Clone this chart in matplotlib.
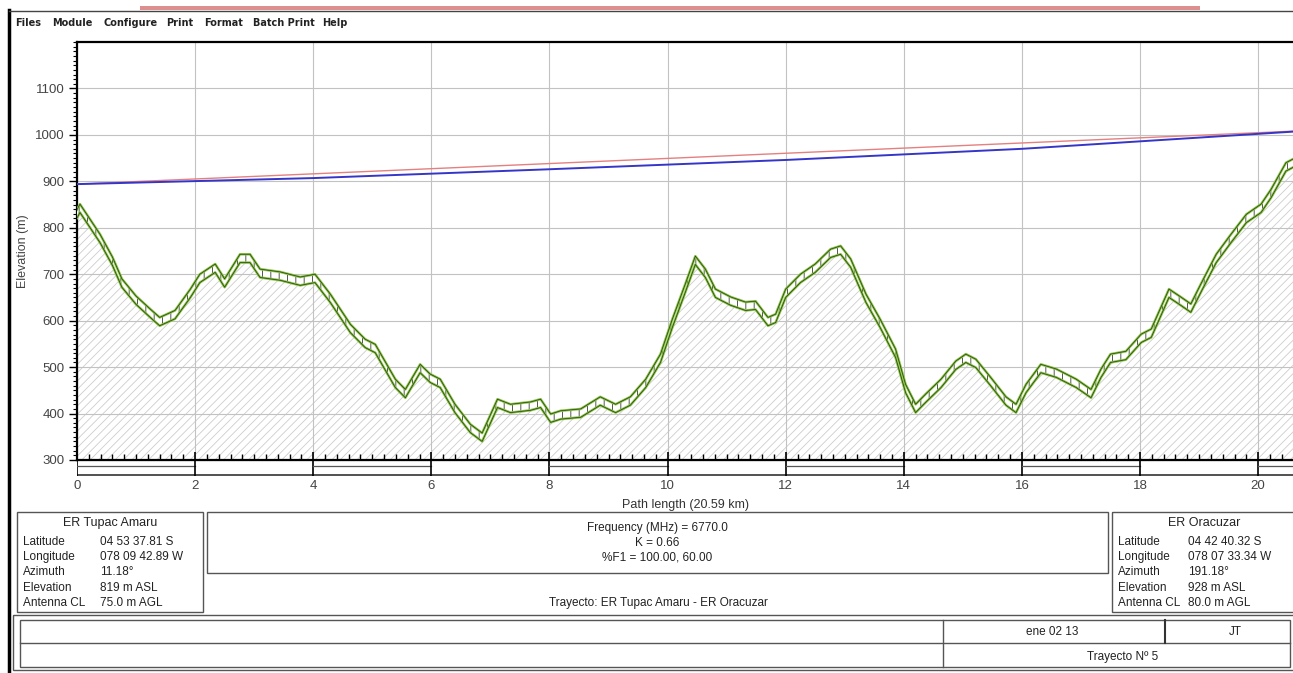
import matplotlib
matplotlib.use("Agg")
import matplotlib.pyplot as plt
from matplotlib.ticker import MultipleLocator
from matplotlib.patches import Rectangle
import numpy as np

plt.rcParams['font.family'] = ['Liberation Sans', 'DejaVu Sans']
plt.rcParams['hatch.linewidth'] = 0.6

W, H = 1293, 673

# terrain profile (km, m ASL)
dist_km = [0, 0.05, 0.39, 0.6, 0.76, 1.0, 1.24, 1.4, 1.66, 1.92, 2.08, 2.34, 2.5, 2.76, 2.93,
           3.1, 3.44, 3.78, 4.03, 4.29, 4.63, 4.88, 5.05, 5.39, 5.56, 5.81, 5.98, 6.15, 6.4,
           6.66, 6.86, 7.12, 7.34, 7.68, 7.85, 8.02, 8.19, 8.53, 8.86, 9.12, 9.37, 9.63, 9.88,
           10.08, 10.3, 10.47, 10.64, 10.81, 11.07, 11.32, 11.49, 11.7, 11.83, 12.0, 12.25,
           12.5, 12.76, 12.93, 13.1, 13.36, 13.6, 13.86, 14.03, 14.2, 14.37, 14.63, 14.88,
           15.05, 15.22, 15.47, 15.73, 15.9, 16.07, 16.32, 16.58, 16.92, 17.17, 17.34, 17.5,
           17.76, 18.02, 18.19, 18.49, 18.69, 18.86, 19.03, 19.29, 19.54, 19.8, 20.05, 20.22,
           20.47, 20.59]
ground_m = [821, 833, 768, 719, 672, 635, 607, 589, 604, 650, 682, 704, 672, 725, 725,
            693, 687, 676, 682, 639, 574, 542, 531, 456, 434, 488, 467, 456, 402,
            359, 340, 413, 402, 407, 413, 381, 388, 392, 418, 402, 418, 456, 510,
            585, 661, 721, 693, 650, 633, 622, 624, 589, 596, 650, 682,
            704, 736, 743, 715, 639, 585, 521, 445, 402, 424, 456, 495,
            510, 499, 460, 418, 402, 445, 488, 478, 456, 434, 478, 510,
            516, 553, 564, 650, 633, 618, 661, 725, 768, 811, 833, 865,
            922, 930]
clutter_m = 18

# line of sight (red) and curved ray (blue)
los_km = [0, 20.59]
los_m = [894, 1008]
ray_km = [0, 4, 8, 12, 16, 20.59]
ray_m = [894, 907, 926, 946, 970, 1007]

x_ticks = [0, 2, 4, 6, 8, 10, 12, 14, 16, 18, 20]
y_ticks = [300, 400, 500, 600, 700, 800, 900, 1000, 1100]

menu_items = ["Files", "Module", "Configure", "Print", "Format", "Batch Print", "Help"]
menu_x = [15, 52, 104, 166, 204, 253, 322]

row_names = ["Latitude", "Longitude", "Azimuth", "Elevation", "Antenna CL"]
site_a = "ER Tupac Amaru"
site_a_vals = ["04 53 37.81 S", "078 09 42.89 W", "11.18°", "819 m ASL", "75.0 m AGL"]
site_b = "ER Oracuzar"
site_b_vals = ["04 42 40.32 S", "078 07 33.34 W", "191.18°", "928 m ASL", "80.0 m AGL"]
mid_lines = ["Frequency (MHz) = 6770.0", "K = 0.66", "%F1 = 100.00, 60.00"]

fig = plt.figure(figsize=(W / 100, H / 100), dpi=100)

# overlay in pixel coords for the window chrome and info panels
ov = fig.add_axes([0, 0, 1, 1])
ov.set_xlim(0, W)
ov.set_ylim(H, 0)
ov.axis('off')

ov.plot([9, 9], [10, H], color='black', lw=2.5)
ov.plot([9, W], [11, 11], color='#444444', lw=1)
ov.add_patch(Rectangle((140, 6), 1060, 4, color='#cf5f5f', alpha=0.7, lw=0))
for t, xx in zip(menu_items, menu_x):
    ov.text(xx, 23, t, fontsize=7, fontweight='bold', color='#222222', va='center',
            family=['DejaVu Sans'])

# site boxes
ov.add_patch(Rectangle((17, 512), 186, 100, fill=False, ec='#555555', lw=1))
ov.add_patch(Rectangle((1112, 512), 185, 100, fill=False, ec='#555555', lw=1))
ov.add_patch(Rectangle((207, 512), 901, 61, fill=False, ec='#555555', lw=1))
ov.text(110, 523, site_a, fontsize=9, ha='center', va='center', color='#222222')
ov.text(1204, 523, site_b, fontsize=9, ha='center', va='center', color='#222222')
for i, name in enumerate(row_names):
    yy = 542 + i * 15.2
    ov.text(23, yy, name, fontsize=8.5, va='center', color='#222222')
    ov.text(100, yy, site_a_vals[i], fontsize=8.5, va='center', color='#222222')
    ov.text(1118, yy, name, fontsize=8.5, va='center', color='#222222')
    ov.text(1188, yy, site_b_vals[i], fontsize=8.5, va='center', color='#222222')
for i, t in enumerate(mid_lines):
    ov.text(657, 528 + i * 15, t, fontsize=8.5, ha='center', va='center', color='#222222')
ov.text(658, 603, "Trayecto: ER Tupac Amaru - ER Oracuzar", fontsize=8.5, ha='center',
        va='center', color='#222222')

# bottom table
ov.add_patch(Rectangle((13, 615), 1282, 55, fill=False, ec='#555555', lw=1))
ov.add_patch(Rectangle((20, 620), 1270, 47, fill=False, ec='#555555', lw=1))
ov.plot([20, 1290], [643, 643], color='#555555', lw=1)
ov.plot([943, 943], [620, 667], color='#555555', lw=1)
ov.plot([1165, 1165], [620, 643], color='#333333', lw=1.5)
ov.text(1052, 632, "ene 02 13", fontsize=8.5, ha='center', va='center', color='#222222')
ov.text(1235, 632, "JT", fontsize=8.5, ha='center', va='center', color='#222222')
ov.text(1123, 657, "Trayecto Nº 5", fontsize=8.5, ha='center', va='center', color='#222222')

# main profile axes
ax = fig.add_axes([77 / W, 1 - 460 / H, (W - 77) / W, (460 - 42) / H])
ax.set_xlim(0, 20.59)
ax.set_ylim(300, 1200)

d = np.array(dist_km)
g = np.array(ground_m)
top = g + clutter_m
ax.fill_between(d, 300, g, facecolor='none', edgecolor='#cdcdcd', hatch='////', lw=0, zorder=1)
ax.fill_between(d, g, top, facecolor='white', edgecolor='#3a3a3a', hatch='||', lw=0, zorder=3)
for yy in (g, top):
    ax.plot(d, yy, color='#86c440', lw=1.8, zorder=4)
    ax.plot(d, yy, color='#2a3a1a', lw=0.5, zorder=5)

ax.plot(los_km, los_m, color='#e58080', lw=1.0, zorder=4)
ax.plot(ray_km, ray_m, color='#3535c8', lw=1.4, zorder=4)

ax.set_xticks(x_ticks)
ax.xaxis.set_minor_locator(MultipleLocator(0.2))
ax.tick_params(axis='x', which='major', direction='in', length=6, width=1.2, labelbottom=False)
ax.tick_params(axis='x', which='minor', direction='in', length=4, width=1)
ax.set_yticks(y_ticks)
ax.yaxis.set_minor_locator(MultipleLocator(10))
ax.tick_params(axis='y', which='major', direction='out', length=6, width=1, labelsize=9.5,
               labelcolor='#444444', pad=3)
ax.tick_params(axis='y', which='minor', direction='out', length=3, width=0.8)
ax.grid(which='major', color='#c2c2c2', lw=0.8)
ax.set_axisbelow('line')
for s in ('left', 'top', 'bottom'):
    ax.spines[s].set_linewidth(1.6)
ax.spines['right'].set_visible(False)
ax.set_ylabel("Elevation (m)", fontsize=9, color='#444444', labelpad=4)

# distance ruler strip under the profile
rl = fig.add_axes([77 / W, 1 - 476 / H, (W - 77) / W, 16 / H], sharex=ax)
rl.set_ylim(0, 1)
rl.patch.set_alpha(0)
for s in rl.spines.values():
    s.set_visible(False)
rl.axhline(1, color='black', lw=1.5)
rl.axhline(0.05, color='#333333', lw=1.2)
for i, x0 in enumerate(x_ticks):
    rl.axvline(x0, color='black', lw=1.2)
    if i % 2 == 0:
        x1 = min(x0 + 2, 20.59)
        rl.plot([x0, x1], [0.6, 0.6], color='#555555', lw=0.9)
rl.tick_params(axis='x', which='both', length=0, labelsize=9.5, labelcolor='#444444', pad=3)
rl.tick_params(axis='y', which='both', left=False, labelleft=False)
rl.set_xlabel("Path length (20.59 km)", fontsize=9, color='#333333', labelpad=5)

fig.savefig("out.png", dpi=100)
